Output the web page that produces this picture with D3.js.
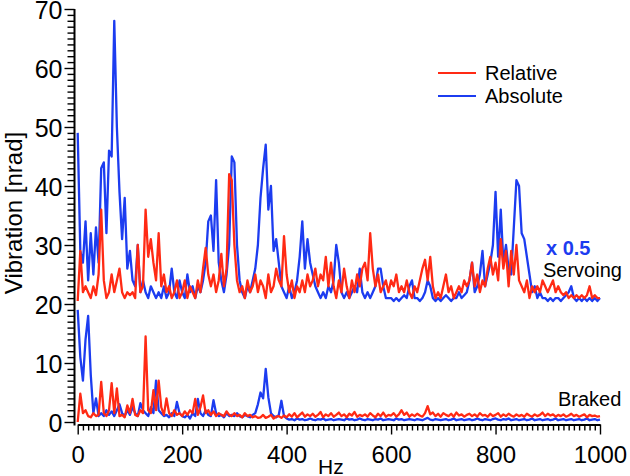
<!DOCTYPE html>
<html>
<head>
<meta charset="utf-8">
<script src="https://cdn.jsdelivr.net/npm/d3@7"></script>
<style>
  body { margin: 0; background: #fff; }
  svg text { font-family: "Liberation Sans", Arial, Helvetica, sans-serif; fill: #000; }
</style>
</head>
<body>
<svg id="chart" width="630" height="476"></svg>
<script>
// frequency grid, 5 Hz step
const hz = d3.range(0, 1001, 5);

// servoing, absolute (already scaled x 0.5 and offset)
const servoAbs = [
  49, 29, 27, 34, 24, 32, 25, 33, 27, 43,
  44, 32, 46, 45, 68, 50, 39, 31, 38, 26,
  29, 24, 23, 30, 22, 24, 22, 21, 23, 22,
  21, 22, 21, 23, 21, 22, 26, 22, 21, 24,
  22, 21, 25, 22, 23, 21, 23, 22, 24, 27,
  34, 35, 29, 41, 27, 24, 22, 25, 30, 45,
  44, 30, 24, 22, 21, 23, 22, 24, 26, 30,
  38, 43, 47, 36, 40, 29, 31, 27, 23, 22,
  21, 23, 21, 22, 24, 28, 34, 26, 31, 27,
  25, 23, 22, 21, 22, 21, 23, 22, 24, 30,
  27, 22, 21, 22, 21, 22, 23, 22, 26, 22,
  21, 22, 21, 22, 23, 26, 26, 23, 21, 21,
  21, 20.5, 21, 20.5, 21, 21.5, 21, 23, 24, 21,
  21, 20.5, 21, 22, 24, 23, 21, 20.5, 21, 20.5,
  21, 21.5, 21, 20.5, 21, 21, 22, 21, 21.5, 22,
  24, 27, 22, 23, 25, 29, 23, 25, 27, 30,
  39, 28, 36, 27, 30, 26, 25, 33, 41, 40,
  32, 31, 28, 25, 22, 23, 21, 22, 21, 21,
  20.5, 21, 20.5, 21, 21, 20.5, 21, 21.5, 22, 23,
  21, 20.5, 21, 20.5, 21, 20.5, 21, 20.5, 21, 20.5,
  21
];

// servoing, relative
const servoRel = [
  20.5, 29, 22, 23, 22, 21, 23, 21.5, 25, 36,
  24, 21, 22, 25, 22, 24, 26, 22, 21, 22,
  21.5, 22, 21, 30, 22, 23, 36, 28, 31, 27,
  24, 32, 23, 25, 22, 23, 21, 22, 24, 21,
  22, 24, 21, 23, 22, 21, 24, 22, 26, 29.5,
  25, 23, 25, 22, 24, 28.5, 23, 26, 42, 41,
  30, 24, 22, 23, 21, 24, 22, 23, 25, 22,
  24, 23, 21, 25, 22, 23, 26, 24, 23, 31.5,
  25, 22, 24, 21, 23, 22, 24, 22, 25, 23,
  24, 26, 23, 25, 24, 28, 23, 27, 23, 21,
  24, 22, 26, 23, 21, 24, 22, 25, 23, 26,
  27, 24, 32, 26, 23, 25, 22, 23, 24, 22,
  24, 23, 25, 22, 23, 22, 24, 22, 21, 23,
  22, 24, 26, 27.5, 24, 28, 23, 21, 22, 21,
  23, 25, 22, 23, 21, 22, 23, 22, 24, 23,
  24, 27, 23, 25, 22, 24, 23, 26, 28, 25,
  27, 24, 31, 26, 29, 23, 29, 25, 30, 24,
  23, 22, 24, 21, 23, 22, 23, 22, 24, 23,
  22, 23, 24, 22, 23, 22, 21.5, 22, 21, 21.5,
  21, 21.5, 21, 21.5, 21, 21.5, 23, 21, 21.5, 21,
  21
];

// braked, absolute
const brakedAbs = [
  19, 11, 7, 14, 18, 8, 1.5, 4, 1, 1.5,
  1, 2, 1.2, 1.8, 1, 2, 3, 1.5, 1, 2,
  1.2, 2.5, 1.5, 1, 3.2, 2, 1.5, 1, 2.5, 1.5,
  7, 2, 1.5, 1, 1.2, 0.8, 1.5, 1, 3.4, 1.5,
  1, 0.8, 1.2, 0.6, 1.5, 1, 3.9, 1.5, 1, 2,
  1.2, 1, 3.7, 1.5, 1, 1.2, 0.8, 1.5, 1, 1.2,
  1, 1.5, 1, 0.8, 1.2, 1, 0.8, 1.2, 1.5, 3,
  5, 4, 9, 4.2, 1.5, 1, 0.8, 1.2, 3.6, 1,
  0.6, 0.4, 0.5, 0.3, 0.6, 0.4, 0.5, 0.3, 0.4, 0.6,
  0.4, 0.3, 0.5, 0.4, 0.6, 0.3, 0.4, 0.5, 0.3, 0.4,
  0.5, 0.4, 0.3, 0.6, 0.4, 0.5, 0.3, 0.4, 0.6, 0.4,
  0.3, 0.5, 0.4, 0.3, 0.5, 0.4, 0.6, 0.3, 0.4, 0.5,
  0.4, 0.3, 0.6, 0.4, 0.5, 0.3, 0.4, 0.5, 0.4, 0.3,
  0.5, 0.4, 0.3, 0.5, 0.7, 0.4, 0.3, 0.5, 0.4, 0.3,
  0.4, 0.5, 0.3, 0.4, 0.6, 0.3, 0.4, 0.5, 0.3, 0.4,
  0.5, 0.3, 0.4, 0.6, 0.4, 0.3, 0.5, 0.4, 0.3, 0.5,
  0.6, 0.4, 0.3, 0.5, 0.4, 0.6, 0.3, 0.4, 0.5, 0.3,
  0.4, 0.5, 0.3, 0.4, 0.6, 0.3, 0.4, 0.5, 0.3, 0.4,
  0.5, 0.3, 0.4, 0.6, 0.3, 0.4, 0.5, 0.3, 0.4, 0.5,
  0.3, 0.4, 0.5, 0.3, 0.4, 0.6, 0.3, 0.4, 0.5, 0.3,
  0.4
];

// braked, relative
const brakedRel = [
  0, 4.8, 1.5, 2, 1, 0.8, 1.5, 1, 1.2, 6.8,
  1.5, 1, 2, 6.6, 1.5, 5.7, 1, 1.2, 0.8, 2.8,
  1.5, 3.9, 1.2, 1, 2, 1.5, 14.5, 2, 1.5, 5.4,
  2, 7, 2.5, 1.2, 4, 1.5, 1, 2, 1.2, 1.5,
  1, 1.8, 1.2, 2, 1.5, 3.9, 1.2, 2.5, 4.5, 1.5,
  2, 1.2, 1.8, 1, 1.5, 1.2, 1, 1.8, 1.2, 1,
  1.5, 1, 1.2, 0.8, 1.5, 1, 1.2, 0.8, 1, 0.7,
  0.8, 1.2, 0.7, 0.9, 1.2, 0.6, 0.9, 1, 0.7, 1.1,
  0.8, 1.3, 0.9, 1.5, 0.8, 1.2, 1.6, 0.9, 1.3, 1,
  1.4, 0.9, 1.2, 1.7, 0.8, 1.3, 1, 1.5, 0.9, 1.2,
  1.6, 1, 1.3, 0.8, 1.4, 1.1, 1.7, 0.9, 1.2, 1,
  1.3, 0.9, 1.5, 1.1, 0.8, 1.4, 1, 1.6, 0.9, 1.2,
  1.1, 1.5, 0.9, 1.3, 2, 1.2, 1.6, 0.9, 1.3, 1,
  1.4, 1.1, 0.9, 1.5, 2.7, 1.3, 1.6, 1, 1.4, 0.9,
  1.5, 1.2, 1, 1.4, 0.9, 1.6, 1.1, 1.3, 0.9, 1.2,
  1.4, 1, 1.3, 0.9, 1.5, 1.1, 1.2, 0.9, 1.4, 1,
  1.2, 1.5, 0.9, 1.3, 1, 1.4, 1.1, 0.9, 1.3, 1,
  1.2, 0.9, 1.4, 1.1, 0.9, 1.3, 1, 1.2, 1.6, 1,
  1.4, 1.1, 1.3, 0.9, 1.2, 1, 1.3, 0.9, 1.1, 1.4,
  1, 1.2, 0.9, 1.1, 1.3, 0.8, 1.2, 1, 1.1, 0.9,
  1
];

const xMajor = [0, 200, 400, 600, 800, 1000];
const yMajor = [0, 10, 20, 30, 40, 50, 60, 70];
const legendItems = ["Relative", "Absolute"];

const RED = "#ff2a14";
const BLUE = "#1c3cf0";

const svg = d3.select("#chart");

const x = d3.scaleLinear().domain([0, 1000]).range([77.7, 600]);
const y = d3.scaleLinear().domain([0, 70]).range([422, 9]);

// x axis, a little below the zero line
const xMinor = d3.range(0, 1001, 10).filter(v => v % 200 !== 0);
svg.append("g")
  .attr("transform", "translate(0,424.5)")
  .call(d3.axisBottom(x).tickValues(xMinor).tickSize(6).tickSizeOuter(0).tickFormat(""))
  .call(g => g.select(".domain").remove());
svg.append("g")
  .attr("class", "xaxis")
  .attr("transform", "translate(0,424.5)")
  .call(d3.axisBottom(x).tickValues(xMajor).tickSize(10).tickSizeOuter(0).tickPadding(11).tickFormat(d3.format("d")));

// y axis, a little left of zero Hz
const yMinor = d3.range(0, 71, 1).filter(v => v % 10 !== 0);
svg.append("g")
  .attr("transform", "translate(74.5,0)")
  .call(d3.axisLeft(y).tickValues(yMinor).tickSize(7).tickSizeOuter(0).tickFormat(""))
  .call(g => g.select(".domain").remove());
svg.append("g")
  .attr("class", "yaxis")
  .attr("transform", "translate(74.5,0)")
  .call(d3.axisLeft(y).tickValues(yMajor).tickSize(10).tickSizeOuter(0).tickPadding(2));

svg.selectAll(".domain").attr("stroke", "#000").attr("stroke-width", 2);
svg.selectAll(".tick line").attr("stroke", "#000").attr("stroke-width", 1.4);
svg.selectAll(".xaxis text").style("font-size", "24px").attr("fill", "#000");
svg.selectAll(".yaxis text").style("font-size", "25px").attr("fill", "#000").attr("dy", "0.37em");

// the y domain line should reach the x axis
svg.select(".yaxis .domain").attr("d", "M0," + y(70) + "V" + 425.5);

const line = d3.line()
  .x((d, i) => x(hz[i]))
  .y(d => y(d));

const series = [
  { values: servoAbs, color: BLUE },
  { values: brakedAbs, color: BLUE },
  { values: servoRel, color: RED },
  { values: brakedRel, color: RED }
];

svg.append("g").selectAll("path")
  .data(series)
  .join("path")
  .attr("d", d => line(d.values))
  .attr("fill", "none")
  .attr("stroke", d => d.color)
  .attr("stroke-width", 2.3)
  .attr("stroke-linejoin", "round");

// legend
const legend = svg.append("g");
legendItems.forEach((name, i) => {
  const ly = 73 + i * 23;
  legend.append("line")
    .attr("x1", 438).attr("x2", 476)
    .attr("y1", ly).attr("y2", ly)
    .attr("stroke", i === 0 ? RED : BLUE)
    .attr("stroke-width", 2);
  legend.append("text")
    .attr("x", 485).attr("y", ly + 7)
    .style("font-size", "20px")
    .text(name);
});

// annotations
svg.append("text").attr("x", 546).attr("y", 255)
  .style("font-size", "20px").style("font-weight", "bold")
  .style("fill", BLUE)
  .text("x 0.5");
svg.append("text").attr("x", 543).attr("y", 277)
  .style("font-size", "20px").text("Servoing");
svg.append("text").attr("x", 558).attr("y", 406)
  .style("font-size", "20px").text("Braked");

// axis titles
svg.append("text")
  .attr("transform", "translate(22,213) rotate(-90)")
  .attr("text-anchor", "middle")
  .style("font-size", "24px")
  .text("Vibration [nrad]");
svg.append("text")
  .attr("x", 318).attr("y", 474)
  .style("font-size", "21px")
  .text("Hz");
</script>
</body>
</html>
